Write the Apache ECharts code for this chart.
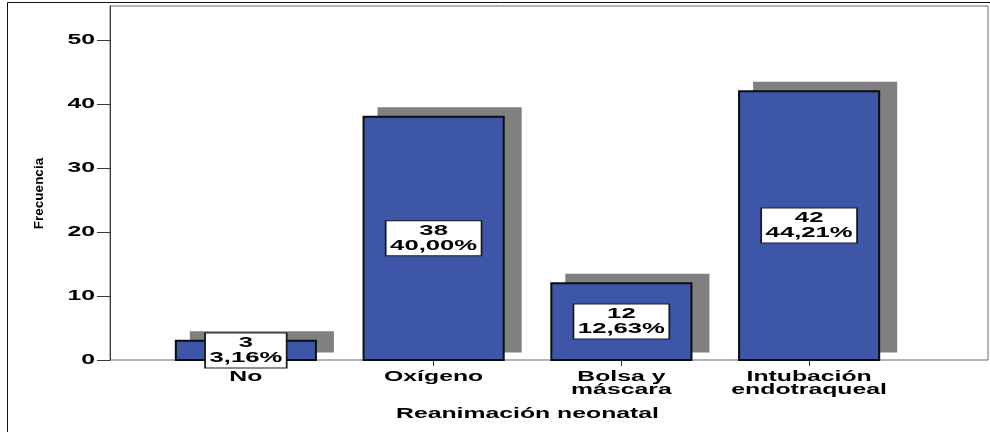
<!DOCTYPE html>
<html>
<head>
<meta charset="utf-8">
<title>Reanimación neonatal</title>
<script src="https://cdn.jsdelivr.net/npm/echarts@6/dist/echarts.min.js"></script>
<style>
  html, body { margin: 0; padding: 0; background: #fff; }
  #chart { width: 990px; height: 432px; }
</style>
</head>
<body>
<div id="chart"></div>
<script>
// Frequency table: neonatal resuscitation
const categories = ['No', 'Oxígeno', 'Bolsa y\nmáscara', 'Intubación\nendotraqueal'];
const counts = [3, 38, 12, 42];
const yTicks = [0, 10, 20, 30, 40, 50];

const FONT = '"Liberation Sans", Arial, sans-serif';
const BLUE = '#3d56a7';
const SHADOW = '#808080';
const TEXT_STRETCH = 1.77;   // horizontal widening of the SPSS-style lettering
const BAR_RATIO = 0.757;     // bar width relative to its category band

const total = counts.reduce((a, b) => a + b, 0);
const pct = v => (v / total * 100).toFixed(2).replace('.', ',') + '%';

function renderBar(params, api) {
  const idx = api.value(0);
  const v = api.value(1);
  const top = api.coord([idx, v]);
  const base = api.coord([idx, 0]);
  const w = api.size([1, 0])[0] * BAR_RATIO;
  const left = top[0] - w / 2;
  const h = base[1] - top[1];
  return {
    type: 'group',
    children: [
      // drop shadow behind the bar
      { type: 'rect', shape: { x: left + 15, y: top[1] - 9.5, width: w + 2, height: h + 2 },
        style: { fill: SHADOW } },
      // the bar itself
      { type: 'rect', shape: { x: left + 1, y: top[1], width: w - 2, height: h },
        style: { fill: BLUE, stroke: '#0d0d0d', lineWidth: 2 } },
      // count + percentage box
      { type: 'text', x: top[0], y: (top[1] + base[1]) / 2, scaleX: TEXT_STRETCH,
        style: {
          text: v + '\n' + pct(v),
          align: 'center', verticalAlign: 'middle',
          fontFamily: FONT, fontWeight: 'bold', fontSize: 14.5, lineHeight: 15,
          fill: '#000', backgroundColor: '#fff', borderColor: '#1a1a1a', borderWidth: 1,
          padding: [2, 2, 2, 2]
        } }
    ]
  };
}

const chart = echarts.init(document.getElementById('chart'), null, { renderer: 'canvas' });

chart.setOption({
  animation: false,
  backgroundColor: '#fff',
  graphic: [{
    type: 'rect', z: 100, silent: true,
    shape: { x: 7.5, y: 2.5, width: 1000, height: 500 },
    style: { fill: 'none', stroke: '#111', lineWidth: 1 }
  }],
  grid: [
    { left: 110, right: 2, top: 6, bottom: 72, show: true, borderColor: '#6a6a6a', borderWidth: 1,
      containLabel: false, outerBoundsMode: 'none' },
    { left: 152, right: 87, top: 6, bottom: 72, containLabel: false, outerBoundsMode: 'none' }
  ],
  xAxis: [
    { gridIndex: 0, type: 'value', min: 0, max: 1, show: false },
    {
      gridIndex: 1, type: 'category', data: categories,
      axisLine: { show: false },
      axisTick: { show: true, alignWithLabel: true, length: 6, lineStyle: { color: '#333', width: 1 } },
      axisLabel: { margin: 11, color: '#000', fontFamily: FONT, fontWeight: 'bold', fontSize: 14, lineHeight: 13 },
      splitLine: { show: false },
      name: 'Reanimación neonatal', nameLocation: 'middle', nameGap: 47,
      nameTextStyle: { color: '#000', fontFamily: FONT, fontWeight: 'bold', fontSize: 14 }
    }
  ],
  yAxis: [
    {
      gridIndex: 0, type: 'value', min: 0, max: 55.3,
      axisLine: { show: true, lineStyle: { color: '#3a3a3a', width: 1 } },
      axisTick: { show: true, length: 13, customValues: yTicks, lineStyle: { color: '#3a3a3a', width: 1 } },
      axisLabel: { margin: 15, customValues: yTicks, color: '#000', fontFamily: FONT, fontWeight: 'bold', fontSize: 14 },
      splitLine: { show: false },
      name: 'Frecuencia', nameLocation: 'middle', nameRotate: 90, nameGap: 64,
      nameTextStyle: { color: '#000', fontFamily: FONT, fontWeight: 'bold', fontSize: 13.5, padding: [0, 21, 0, 0] }
    },
    { gridIndex: 1, type: 'value', min: 0, max: 55.3, show: false }
  ],
  series: [{
    type: 'custom',
    xAxisIndex: 1, yAxisIndex: 1,
    renderItem: renderBar,
    encode: { x: 0, y: 1 },
    data: categories.map((c, i) => [i, counts[i]]),
    z: 5
  }]
});

// Widen the horizontal lettering (axis labels and axis title) the way the
// original SPSS output is drawn; rotated text keeps its proportions.
(function stretchText() {
  const zr = chart.getZr();
  const visit = el => {
    if (el.type === 'text' && Math.abs(el.rotation || 0) < 1e-3) {
      el.scaleX = TEXT_STRETCH;
      el.markRedraw();
    }
    if (el.isGroup) el.eachChild(visit);
    const tc = el.getTextContent && el.getTextContent();
    if (tc) visit(tc);
  };
  zr.storage.getRoots().forEach(visit);
  if (zr.refreshImmediately) zr.refreshImmediately(); else zr.refresh();
})();
</script>
</body>
</html>
